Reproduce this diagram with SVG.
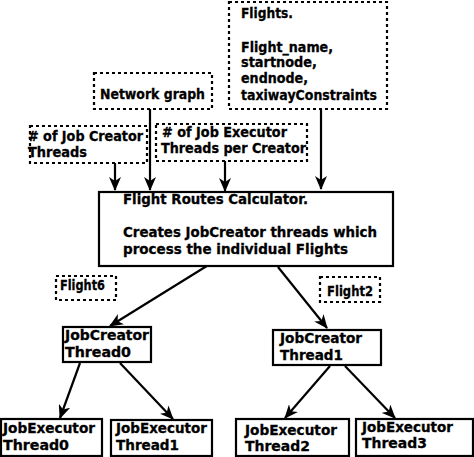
<svg xmlns="http://www.w3.org/2000/svg" width="474" height="457" viewBox="0 0 474 457">
<defs>
<marker id="ah" viewBox="0 0 14 12" refX="13" refY="6" markerWidth="14" markerHeight="12" markerUnits="userSpaceOnUse" orient="auto">
<path d="M0,0 L14,6 L0,12 L4,6 Z" fill="#000"/>
</marker>
<style>
text{font-family:"DejaVu Sans",sans-serif;font-weight:bold;font-size:13.6px;fill:#000;stroke:#000;stroke-width:0.3}
.solid{fill:#fff;stroke:#000;stroke-width:2.2}
.dash{fill:#fff;stroke:#000;stroke-width:2.2;stroke-dasharray:3,3}
.con{fill:none;stroke:#000;stroke-width:2.2;marker-end:url(#ah)}
</style>
</defs>
<rect width="474" height="457" fill="#fff"/>
<g id="connectors">
<line class="con" x1="115" y1="163" x2="115" y2="190"/>
<line class="con" x1="150" y1="109" x2="150" y2="190"/>
<line class="con" x1="225" y1="161" x2="225" y2="191"/>
<line class="con" x1="321" y1="109" x2="321" y2="189"/>
<line class="con" x1="210" y1="264" x2="110" y2="326"/>
<line class="con" x1="278" y1="267" x2="327" y2="328"/>
<line class="con" x1="80" y1="363" x2="60" y2="418"/>
<line class="con" x1="120" y1="363" x2="173" y2="419"/>
<line class="con" x1="330" y1="366" x2="285" y2="418"/>
<line class="con" x1="345" y1="366" x2="395" y2="418"/>
</g>
<g id="flights">
<rect class="dash" x="229" y="2" width="158" height="107"/>
<text x="241" y="18" textLength="52" lengthAdjust="spacingAndGlyphs">Flights.</text>
<text x="241" y="52" textLength="92" lengthAdjust="spacingAndGlyphs">Flight_name,</text>
<text x="241" y="67" textLength="76" lengthAdjust="spacingAndGlyphs">startnode,</text>
<text x="241" y="83" textLength="67" lengthAdjust="spacingAndGlyphs">endnode,</text>
<text x="241" y="100" textLength="136" lengthAdjust="spacingAndGlyphs">taxiwayConstraints</text>
</g>
<g id="network">
<rect class="dash" x="94" y="73" width="118" height="36"/>
<text x="100" y="99" textLength="105" lengthAdjust="spacingAndGlyphs">Network graph</text>
</g>
<g id="creators">
<rect class="dash" x="30" y="126" width="117" height="37"/>
<text x="28" y="141" textLength="115" lengthAdjust="spacingAndGlyphs"># of Job Creator</text>
<text x="28" y="157" textLength="59" lengthAdjust="spacingAndGlyphs">Threads</text>
</g>
<g id="executors">
<rect class="dash" x="156" y="124" width="151" height="37"/>
<text x="162" y="137" textLength="125" lengthAdjust="spacingAndGlyphs"># of Job Executor</text>
<text x="161" y="153" textLength="145" lengthAdjust="spacingAndGlyphs">Threads per Creator</text>
</g>
<g id="calculator">
<rect class="solid" x="99" y="192" width="294" height="74"/>
<text x="123" y="204" textLength="185" lengthAdjust="spacingAndGlyphs">Flight Routes Calculator.</text>
<text x="123" y="237" textLength="254" lengthAdjust="spacingAndGlyphs">Creates JobCreator threads which</text>
<text x="123" y="254" textLength="225" lengthAdjust="spacingAndGlyphs">process the individual Flights</text>
</g>
<g id="flight6">
<rect class="dash" x="56" y="276" width="60" height="24"/>
<text x="60" y="290" textLength="45" lengthAdjust="spacingAndGlyphs">Flight6</text>
</g>
<g id="flight2">
<rect class="dash" x="320" y="277" width="60" height="25"/>
<text x="327" y="296" textLength="46" lengthAdjust="spacingAndGlyphs">Flight2</text>
</g>
<g id="creator0">
<rect class="solid" x="63" y="327" width="88" height="35"/>
<text x="65" y="340" textLength="84" lengthAdjust="spacingAndGlyphs">JobCreator</text>
<text x="65" y="357" textLength="66" lengthAdjust="spacingAndGlyphs">Thread0</text>
</g>
<g id="creator1">
<rect class="solid" x="273" y="330" width="108" height="35"/>
<text x="280" y="343" textLength="82" lengthAdjust="spacingAndGlyphs">JobCreator</text>
<text x="280" y="360" textLength="63" lengthAdjust="spacingAndGlyphs">Thread1</text>
</g>
<g id="exec0">
<rect class="solid" x="1" y="419" width="101" height="37"/>
<text x="3" y="433" textLength="92" lengthAdjust="spacingAndGlyphs">JobExecutor</text>
<text x="3" y="450" textLength="66" lengthAdjust="spacingAndGlyphs">Thread0</text>
</g>
<g id="exec1">
<rect class="solid" x="111" y="420" width="101" height="36"/>
<text x="116" y="433" textLength="91" lengthAdjust="spacingAndGlyphs">JobExecutor</text>
<text x="116" y="450" textLength="63" lengthAdjust="spacingAndGlyphs">Thread1</text>
</g>
<g id="exec2">
<rect class="solid" x="236" y="419" width="113" height="37"/>
<text x="245" y="435" textLength="92" lengthAdjust="spacingAndGlyphs">JobExecutor</text>
<text x="245" y="451" textLength="65" lengthAdjust="spacingAndGlyphs">Thread2</text>
</g>
<g id="exec3">
<rect class="solid" x="356" y="419" width="117" height="37"/>
<text x="362" y="432" textLength="91" lengthAdjust="spacingAndGlyphs">JobExecutor</text>
<text x="362" y="448" textLength="65" lengthAdjust="spacingAndGlyphs">Thread3</text>
</g>
</svg>
